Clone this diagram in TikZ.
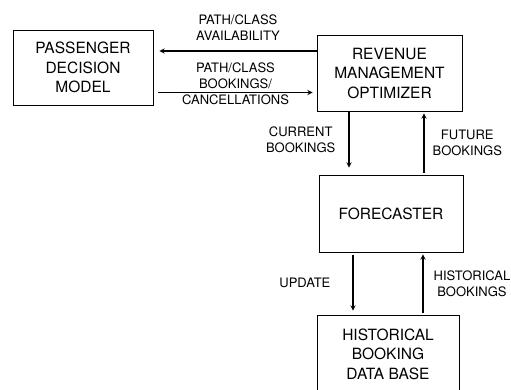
\documentclass[tikz,border=0pt]{standalone}
\usepackage{fontspec}
\setmainfont{TeX Gyre Heros}
\usetikzlibrary{positioning}

\begin{document}
\begin{tikzpicture}[
        x=1pt, y=1pt,
        box/.style={rectangle, draw, line width=0.9pt, align=center, inner sep=0pt,
            font=\fontsize{15.5}{19.5}\selectfont},
        lbl/.style={align=center, inner sep=0pt, font=\fontsize{13}{16}\selectfont},
        arrow/.style={->, >=stealth, line width=1.3pt}
    ]
        \clip (0,0) rectangle (511,389);

        % Boxes
        \node[box, minimum width=140, minimum height=75] (pdm) at (83,321.5) {PASSENGER\\DECISION\\MODEL};
        \node[box, minimum width=145, minimum height=76] (rmo) at (389.5,316) {REVENUE\\MANAGEMENT\\OPTIMIZER};
        \node[box, minimum width=144, minimum height=77] (fcst) at (391,175.5) {FORECASTER};
        \node[box, minimum width=142, minimum height=78] (hbdb) at (388,35) {HISTORICAL\\BOOKING\\DATA BASE};

        % Passenger model <-> optimizer
        \draw[arrow] ([yshift=22pt]rmo.west) -- node[lbl, above=10pt] {PATH/CLASS\\AVAILABILITY} ([xshift=6pt, yshift=16.5pt]pdm.east);
        \draw[arrow] ([xshift=5pt, yshift=-25pt]pdm.east) -- node[lbl, yshift=8.5pt] {PATH/CLASS\\BOOKINGS/\\CANCELLATIONS} ([xshift=-4pt, yshift=-19.5pt]rmo.west);

        % Optimizer <-> forecaster
        \draw[arrow] ([xshift=-40.5pt]rmo.south) -- node[lbl, left=13pt] {CURRENT\\BOOKINGS} ([xshift=-42pt, yshift=7pt]fcst.north);
        \draw[arrow] ([xshift=33pt, yshift=2pt]fcst.north) -- node[lbl, right=8pt] {FUTURE\\BOOKINGS} ([xshift=34.5pt, yshift=-2pt]rmo.south);

        % Forecaster <-> data base
        \draw[arrow] ([xshift=-38pt, yshift=-3pt]fcst.south) -- node[lbl, left=22pt] {UPDATE} ([xshift=-35pt, yshift=4pt]hbdb.north);
        \draw[arrow] ([xshift=35pt, yshift=2pt]hbdb.north) -- node[lbl, right=10pt] {HISTORICAL\\BOOKINGS} ([xshift=32pt, yshift=-2pt]fcst.south);
    \end{tikzpicture}
\end{document}
